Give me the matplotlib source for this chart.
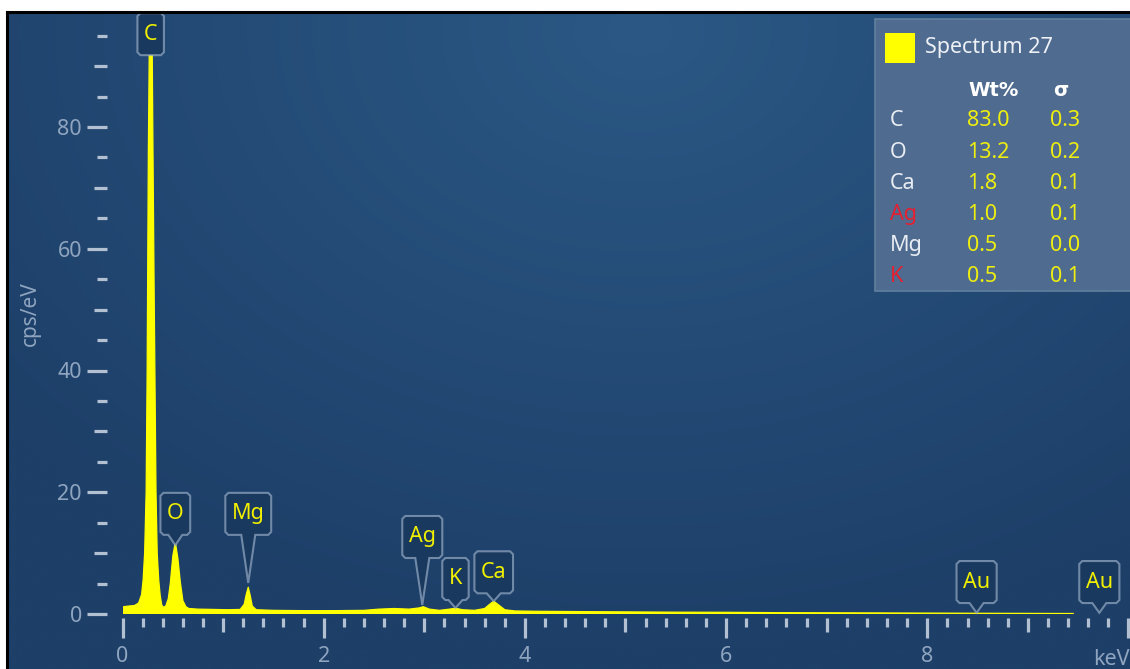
import numpy as np
import matplotlib
matplotlib.use("Agg")
import matplotlib.pyplot as plt
from matplotlib.patches import Polygon, Rectangle
from matplotlib.lines import Line2D
from matplotlib.ticker import MultipleLocator
from matplotlib.transforms import IdentityTransform

plt.rcParams['font.family'] = ['Noto Sans', 'DejaVu Sans']

# EDS spectrum, sampled by hand along the trace (keV, cps/eV)
energy = [0.00, 0.01, 0.06, 0.12, 0.16, 0.19, 0.205, 0.22, 0.235, 0.245, 0.257, 0.27,
          0.28, 0.29, 0.303, 0.315, 0.323, 0.333, 0.345, 0.36, 0.375, 0.39, 0.405,
          0.43, 0.455, 0.475, 0.50, 0.525, 0.55, 0.575, 0.60, 0.63, 0.66, 0.75, 0.90,
          1.05, 1.17, 1.21, 1.23, 1.25, 1.27, 1.29, 1.33, 1.5, 1.8, 2.1, 2.4, 2.55,
          2.7, 2.85, 2.95, 2.99, 3.05, 3.15, 3.25, 3.31, 3.38, 3.5, 3.6, 3.65, 3.69,
          3.73, 3.8, 3.9, 4.1, 4.5, 5.0, 5.5, 6.0, 6.5, 7.0, 7.5, 8.0, 8.5, 9.0, 9.45]
cps = [0.2, 1.2, 1.3, 1.4, 1.8, 3.2, 5.6, 10.0, 20.0, 40.0, 76.0, 100.0,
       115.0, 104.0, 76.0, 52.0, 38.0, 20.0, 10.0, 5.6, 3.0, 1.5, 1.1,
       1.3, 2.5, 5.0, 9.5, 11.8, 9.2, 5.2, 2.2, 1.2, 0.9, 0.8, 0.75,
       0.7, 0.75, 1.6, 3.2, 4.4, 3.0, 1.3, 0.7, 0.6, 0.55, 0.55, 0.6, 0.8,
       0.9, 0.8, 1.0, 1.2, 0.8, 0.6, 0.8, 0.95, 0.7, 0.6, 0.9, 1.6, 2.1,
       1.6, 0.7, 0.5, 0.45, 0.4, 0.35, 0.3, 0.28, 0.22, 0.2, 0.18, 0.15, 0.12, 0.1, 0.08]

# peak markers: element, line energy, pointer tip and box bottom (cps/eV)
peak_names = ["C", "O", "Mg", "Ag", "K", "Ca", "Au", "Au"]
peak_kev = [0.28, 0.525, 1.25, 2.98, 3.31, 3.69, 8.49, 9.71]
peak_tip = [None, 11.3, 5.1, 1.5, 1.0, 2.1, 0.2, 0.2]
box_bottom = [91.8, 13.0, 13.0, 9.2, 2.3, 3.4, 1.8, 1.8]

# quantification table
spectrum_name = "Spectrum 27"
elements = ["C", "O", "Ca", "Ag", "Mg", "K"]
wt_pct = [83.0, 13.2, 1.8, 1.0, 0.5, 0.5]
sigma = [0.3, 0.2, 0.1, 0.1, 0.0, 0.1]
flagged = ["Ag", "K"]

W, H = 1130, 669
def fx(p):
    return p / W
def fy(p):
    return 1 - p / H

fig = plt.figure(figsize=(W / 100, H / 100), dpi=100, facecolor="white")

# dark blue gradient panel
bg = fig.add_axes([fx(8), 0, 1 - fx(8), fy(13)])
gx, gy = np.meshgrid(np.linspace(8, W, 400), np.linspace(13, H, 240))
d = np.clip(np.sqrt(((gx - 640) / 820) ** 2 + ((gy - 30) / 620) ** 2), 0, 1)[..., None]
c_in = np.array([0x2b, 0x58, 0x85]) / 255
c_out = np.array([0x1d, 0x3f, 0x68]) / 255
bg.imshow(c_in * (1 - d) + c_out * d, extent=[0, 1, 0, 1], aspect="auto")
bg.axis("off")
fig.add_artist(Line2D([fx(7), 1], [fy(12), fy(12)], color="black", lw=2.2))
fig.add_artist(Line2D([fx(7), fx(7)], [0, fy(12)], color="black", lw=2.2))

x0, px_kev, y0, px_cps = 122.5, 100.6, 614, 6.0875
ax = fig.add_axes([fx(x0), fy(y0), 1 - fx(x0), (y0 - 13) / H])
ax.set_facecolor("none")
ax.set_xlim(0, (W - x0) / px_kev)
ax.set_ylim(0, (y0 - 13) / px_cps)

ax.fill_between(energy, cps, 0, color="#ffff00", lw=0, zorder=2)
ax.plot(energy, cps, color="#ffff00", lw=0.9, zorder=2)

for s in ax.spines.values():
    s.set_visible(False)
ax.spines["left"].set_position(("outward", 11.2))
ax.spines["bottom"].set_position(("outward", 2.9))

tick_c = "#b2c0d2"
lab_c = "#8fa4bf"
ax.xaxis.set_major_locator(MultipleLocator(2))
ax.xaxis.set_minor_locator(MultipleLocator(0.2))
ax.yaxis.set_major_locator(MultipleLocator(20))
ax.yaxis.set_minor_locator(MultipleLocator(5))
ax.set_xticks([0, 2, 4, 6, 8, 10], ["0", "2", "4", "6", "8", ""])
ax.tick_params(axis="both", which="both", color=tick_c, width=2.3, labelcolor=lab_c, labelsize=15.5)
ax.tick_params(axis="y", which="major", length=14.4, pad=3.6)
ax.tick_params(axis="y", which="minor", length=7.0)
ax.tick_params(axis="x", which="major", length=14.4, pad=6)
ax.tick_params(axis="x", which="minor", length=6.5)

# half-way ticks are a bit longer
ylocs = ax.yaxis.get_minorticklocs()
for t, v in zip(ax.yaxis.get_minor_ticks(len(ylocs)), ylocs):
    if round(v) % 10 == 0:
        t.tick1line.set_markersize(9.6)
xlocs = ax.xaxis.get_minorticklocs()
for t, v in zip(ax.xaxis.get_minor_ticks(len(xlocs)), xlocs):
    if abs(v - round(v)) < 1e-6 and round(v) % 2 == 1:
        t.tick1line.set_markersize(10.0)

ax.text(1.0, -0.075, "keV", transform=ax.transAxes, ha="right", va="center",
        color=lab_c, fontsize=15.5, clip_on=False)
ax.set_ylabel("cps/eV", color=lab_c, fontsize=15, labelpad=12)

# element callouts
renderer = fig.canvas.get_renderer()
ident = IdentityTransform()
for name, e, tip, bb in zip(peak_names, peak_kev, peak_tip, box_bottom):
    cx, b = ax.transData.transform((e, bb))
    t = b + 42
    txt = ax.text(cx, (b + t) / 2, name, transform=ident, ha="center", va="center",
                  color="#f0f000", fontsize=15.5, zorder=6, clip_on=False)
    half = max(txt.get_window_extent(renderer).width + 13, 26) / 2
    l, r, c = cx - half, cx + half, 3
    pts = [(l, b + c), (l, t - c), (l + c, t), (r - c, t), (r, t - c), (r, b + c), (r - c, b)]
    if tip is not None:
        tx, ty = ax.transData.transform((e, tip))
        pts += [(cx + 7, b), (tx, ty), (cx - 7, b)]
    pts += [(l + c, b)]
    ax.add_patch(Polygon(pts, closed=True, transform=ident, facecolor="#1a395e",
                         edgecolor=(0.62, 0.7, 0.8, 0.65), lw=1.5, zorder=5, clip_on=False))

# quantification panel
fig.add_artist(Rectangle((fx(875), fy(291)), 1, (291 - 19) / H, transform=fig.transFigure,
                         facecolor="#4f6b8f", edgecolor="#61809f", lw=1.2))
fig.add_artist(Rectangle((fx(885), fy(63)), 30 / W, 30 / H, transform=fig.transFigure,
                         facecolor="#ffff00", edgecolor="none"))
fig.text(fx(925), fy(48), spectrum_name, color="#eef2f7", fontsize=15.5, va="center")
fig.text(fx(968), fy(90), "Wt%", color="white", fontsize=14, fontweight="bold",
         family="DejaVu Sans", va="center")
fig.text(fx(1053), fy(90), "σ", color="white", fontsize=14, fontweight="bold",
         family="DejaVu Sans", va="center")
for i, (el, w, s) in enumerate(zip(elements, wt_pct, sigma)):
    yy = fy(121 + 31.2 * i)
    fig.text(fx(890), yy, el, color="#e52030" if el in flagged else "#e8edf3",
             fontsize=15.5, va="center")
    fig.text(fx(967), yy, f"{w:.1f}", color="#eeee10", fontsize=15.5, va="center")
    fig.text(fx(1050), yy, f"{s:.1f}", color="#eeee10", fontsize=15.5, va="center")

fig.savefig("out.png", dpi=100, facecolor="white")
